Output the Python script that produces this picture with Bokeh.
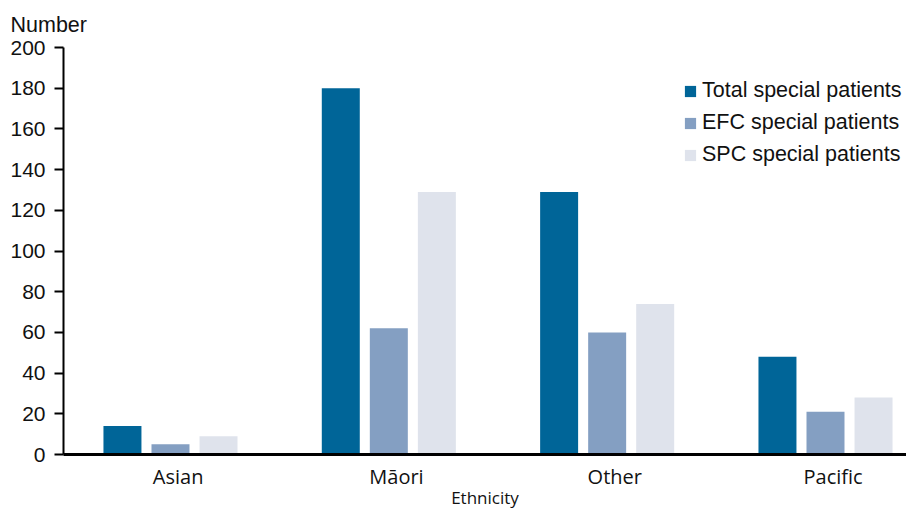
from bokeh.plotting import figure
from bokeh.models import ColumnDataSource, FixedTicker, Legend, LegendItem, Range1d, Title
from bokeh.embed import file_html
from bokeh.resources import INLINE

categories = ["Asian", "Māori", "Other", "Pacific"]
total_special = [14, 180, 129, 48]
efc_special = [5, 62, 60, 21]
spc_special = [9, 129, 74, 28]
series_names = ["Total special patients", "EFC special patients", "SPC special patients"]
colors = ["#006598", "#849FC2", "#DFE3EC"]
y_ticks = list(range(0, 201, 20))

p = figure(frame_width=843, frame_height=407, output_backend="svg", toolbar_location=None,
           x_range=Range1d(-0.49, 3.371), y_range=Range1d(0, 200),
           min_border_left=63, min_border_right=0, min_border_top=47, min_border_bottom=0)
p.outline_line_color = None
p.xgrid.grid_line_color = None
p.ygrid.grid_line_color = None

p.title = Title(text="Number", align="left", offset=-53, standoff=21,
                text_font="Liberation Sans", text_font_size="21.5px",
                text_font_style="normal", text_color="#111111", vertical_align="bottom")

xs = list(range(len(categories)))
offsets = [-0.22, 0.0, 0.22]
renderers = []
for vals, off, col in zip([total_special, efc_special, spc_special], offsets, colors):
    src = ColumnDataSource(dict(x=[i + off for i in xs], top=vals))
    r = p.vbar(x="x", top="top", width=0.174, bottom=0, source=src,
               fill_color=col, line_color=None)
    renderers.append(r)

# y axis
p.yaxis.ticker = FixedTicker(ticks=y_ticks)
p.yaxis.axis_line_width = 2
p.yaxis.axis_line_color = "black"
p.yaxis.major_tick_line_color = "black"
p.yaxis.major_tick_line_width = 2
p.yaxis.major_tick_in = 0
p.yaxis.major_tick_out = 9
p.yaxis.minor_tick_line_color = None
p.yaxis.major_label_text_font = "Liberation Sans"
p.yaxis.major_label_text_font_size = "21px"
p.yaxis.major_label_text_color = "#111111"
p.yaxis.major_label_standoff = 9

# x axis
p.xaxis.ticker = FixedTicker(ticks=[i + 0.035 for i in xs])
p.xaxis.major_label_overrides = {i + 0.035: c for i, c in zip(xs, categories)}
p.xaxis.axis_line_width = 3
p.xaxis.axis_line_color = "black"
p.xaxis.major_tick_line_color = None
p.xaxis.major_tick_out = 0
p.xaxis.major_tick_in = 0
p.xaxis.minor_tick_line_color = None
p.xaxis.major_label_text_font = "Open Sans"
p.xaxis.major_label_text_font_size = "20px"
p.xaxis.major_label_text_color = "#111111"
p.xaxis.major_label_standoff = 8
p.xaxis.axis_label = "Ethnicity"
p.xaxis.axis_label_text_font = "Open Sans"
p.xaxis.axis_label_text_font_size = "17px"
p.xaxis.axis_label_text_font_style = "normal"
p.xaxis.axis_label_text_color = "#111111"
p.xaxis.axis_label_standoff = -7

legend = Legend(items=[LegendItem(label=n, renderers=[r]) for n, r in zip(series_names, renderers)],
                location=(620, 287), margin=0, padding=2, spacing=7,
                glyph_width=14, glyph_height=14, label_standoff=5,
                label_text_font="Liberation Sans", label_text_font_size="21.5px",
                label_text_color="#111111", border_line_color=None, background_fill_alpha=0)
p.add_layout(legend, "center")

open("out.html", "w").write(file_html(p, INLINE))
